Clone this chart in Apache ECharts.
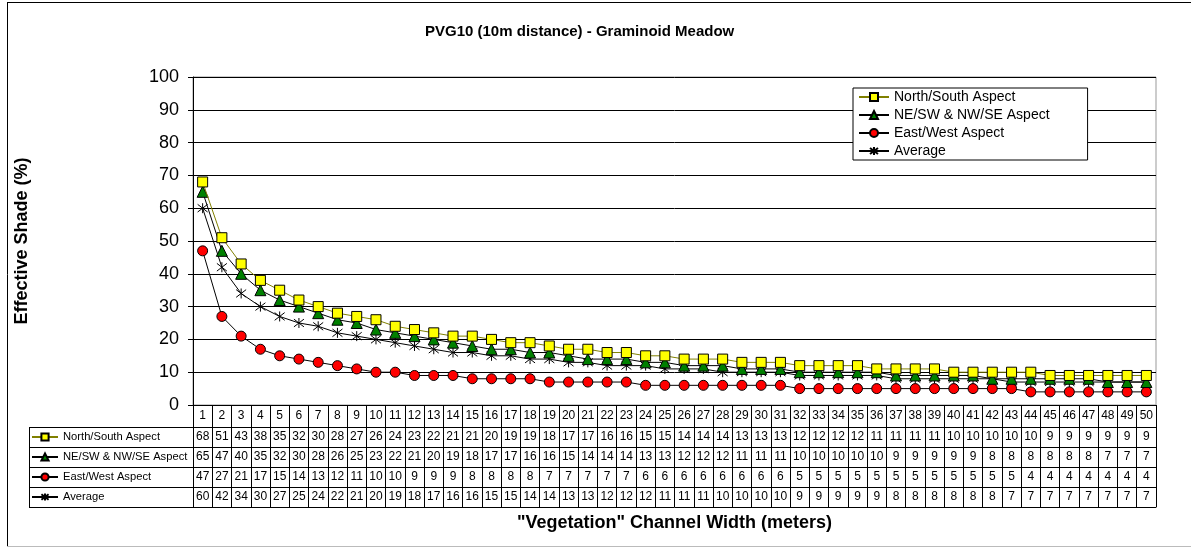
<!DOCTYPE html>
<html>
<head>
<meta charset="utf-8">
<script src="https://cdn.jsdelivr.net/npm/echarts@6/dist/echarts.min.js"></script>
<style>
  html, body { margin: 0; padding: 0; background: #fff; }
  #chart { width: 1191px; height: 548px; }
</style>
</head>
<body>
<div id="chart"></div>
<script>
// channel widths (m)
const widths = ['1','2','3','4','5','6','7','8','9','10','11','12','13','14','15','16','17','18','19','20',
  '21','22','23','24','25','26','27','28','29','30','31','32','33','34','35','36','37','38','39','40',
  '41','42','43','44','45','46','47','48','49','50']

const northSouth = [68,51,43,38,35,32,30,28,27,26, 24,23,22,21,21,20,19,19,18,17,
  17,16,16,15,15,14,14,14,13,13, 13,12,12,12,12,11,11,11,11,10, 10,10,10,10,9,9,9,9,9,9]
const neSwNwSe = [65,47,40,35,32,30,28,26,25,23, 22,21,20,19,18,17,17,16,16,15,
  14,14,14,13,13,12,12,12,11,11, 11,10,10,10,10,10,9,9,9,9, 9,8,8,8,8,8,8,7,7,7]
const eastWest = [47,27,21,17,15,14,13,12,11,10, 10,9,9,9,8,8,8,8,7,7,
  7,7,7,6,6,6,6,6,6,6, 6,5,5,5,5,5,5,5,5,5, 5,5,5,4,4,4,4,4,4,4]
const average = [60,42,34,30,27,25,24,22,21,20, 19,18,17,16,16,15,15,14,14,13,
  13,12,12,12,11,11,11,10,10,10, 10,9,9,9,9,9,8,8,8,8, 8,8,7,7,7,7,7,7,7,7]

const seriesNames = ['North/South Aspect', 'NE/SW & NW/SE Aspect', 'East/West Aspect', 'Average']
const seriesValues = [northSouth, neSwNwSe, eastWest, average]

const FONT = 'Arial, "Liberation Sans", sans-serif'
const GRID = { left: 193, right: 35, top: 77, bottom: 143 }

const chart = echarts.init(document.getElementById('chart'))

const styles = [
  { symbol: 'rect', symbolSize: 10, color: '#ffff00', line: '#808000' },
  { symbol: 'triangle', symbolSize: 11, color: '#008000', line: '#000' },
  { symbol: 'circle', symbolSize: 10, color: '#ff0000', line: '#000' },
  { symbol: 'path://M0,0L10,10M10,0L0,10M5,-1.5L5,11.5', symbolSize: 10, color: '#000', line: '#000' }
]

// table rows are extra category axes stacked under the plot
const tableAxes = seriesValues.map((vals, i) => ({
  type: 'category',
  position: 'bottom',
  offset: 22 + 20 * i,
  data: vals.map(String),
  axisLine: { lineStyle: { color: '#000', width: 1 } },
  axisTick: { show: true, interval: 0, length: 20, lineStyle: { color: '#000' } },
  axisLabel: { interval: 0, margin: 4, fontSize: 12, color: '#000', fontFamily: FONT }
}))

chart.setOption({
  animation: false,
  title: {
    text: 'PVG10 (10m distance) - Graminoid Meadow',
    left: 420,
    top: 19,
    textStyle: { fontSize: 15, fontWeight: 'bold', color: '#000', fontFamily: FONT }
  },
  grid: Object.assign({ show: true, borderColor: '#999', borderWidth: 1, containLabel: false }, GRID),
  legend: [
    {
      orient: 'vertical',
      left: 853,
      top: 88,
      padding: [2, 38, 2, 5],
      itemGap: 4,
      itemWidth: 30,
      itemHeight: 10,
      borderColor: '#000',
      borderWidth: 1,
      backgroundColor: '#fff',
      data: seriesNames,
      textStyle: { fontSize: 14, lineHeight: 14, color: '#000', fontFamily: FONT }
    },
    {
      orient: 'vertical',
      left: 31,
      top: 430,
      padding: 0,
      itemGap: 6,
      itemWidth: 26,
      itemHeight: 9,
      selectedMode: false,
      data: seriesNames,
      textStyle: { fontSize: 11.2, lineHeight: 14, color: '#000', fontFamily: FONT }
    }
  ],
  xAxis: [
    {
      type: 'category',
      position: 'bottom',
      data: widths,
      axisLine: { lineStyle: { color: '#000', width: 1 } },
      axisTick: { show: true, interval: 0, length: 22, lineStyle: { color: '#000' } },
      axisLabel: { interval: 0, margin: 5, fontSize: 12, color: '#000', fontFamily: FONT }
    },
    ...tableAxes,
    {
      type: 'category',
      position: 'bottom',
      offset: 102,
      data: widths,
      axisLine: { lineStyle: { color: '#000', width: 1 } },
      axisTick: { show: false },
      axisLabel: { show: false },
      name: '"Vegetation" Channel Width (meters)',
      nameLocation: 'middle',
      nameGap: 7,
      nameTextStyle: { fontSize: 18, fontWeight: 'bold', color: '#000', fontFamily: FONT, verticalAlign: 'top' }
    }
  ],
  yAxis: {
    type: 'value',
    min: 0,
    max: 100,
    interval: 10,
    name: 'Effective Shade (%)',
    nameLocation: 'middle',
    nameGap: 162,
    nameTextStyle: { fontSize: 18, fontWeight: 'bold', color: '#000', fontFamily: FONT },
    axisLine: { show: true, lineStyle: { color: '#000', width: 1 } },
    axisTick: { show: true, length: 5, lineStyle: { color: '#000' } },
    axisLabel: { margin: 14, fontSize: 18, color: '#000', fontFamily: FONT },
    splitLine: { lineStyle: { color: '#000', width: 1 } }
  },
  series: seriesValues.map((vals, i) => ({
    name: seriesNames[i],
    type: 'line',
    xAxisIndex: 0,
    data: vals,
    symbol: styles[i].symbol,
    symbolSize: styles[i].symbolSize,
    showAllSymbol: true,
    itemStyle: { color: styles[i].color, borderColor: '#000', borderWidth: 1 },
    lineStyle: { color: styles[i].line, width: 1 },
    z: 10 - i
  })),
  graphic: [
    // outer frame
    { type: 'line', shape: { x1: 7, y1: 2.5, x2: 1191, y2: 2.5 }, style: { stroke: '#000', lineWidth: 1 } },
    { type: 'line', shape: { x1: 7.5, y1: 2, x2: 7.5, y2: 547 }, style: { stroke: '#000', lineWidth: 1 } },
    { type: 'line', shape: { x1: 7, y1: 546.5, x2: 1191, y2: 546.5 }, style: { stroke: '#bbb', lineWidth: 1 } },
    // table key column
    { type: 'line', shape: { x1: 29.5, y1: 427, x2: 29.5, y2: 507 }, style: { stroke: '#000', lineWidth: 1 } },
    { type: 'line', shape: { x1: 29, y1: 427.5, x2: 193, y2: 427.5 }, style: { stroke: '#000', lineWidth: 1 } },
    { type: 'line', shape: { x1: 29, y1: 447.5, x2: 193, y2: 447.5 }, style: { stroke: '#000', lineWidth: 1 } },
    { type: 'line', shape: { x1: 29, y1: 467.5, x2: 193, y2: 467.5 }, style: { stroke: '#000', lineWidth: 1 } },
    { type: 'line', shape: { x1: 29, y1: 487.5, x2: 193, y2: 487.5 }, style: { stroke: '#000', lineWidth: 1 } },
    { type: 'line', shape: { x1: 29, y1: 507.5, x2: 193, y2: 507.5 }, style: { stroke: '#000', lineWidth: 1 } }
  ]
})
</script>
</body>
</html>
